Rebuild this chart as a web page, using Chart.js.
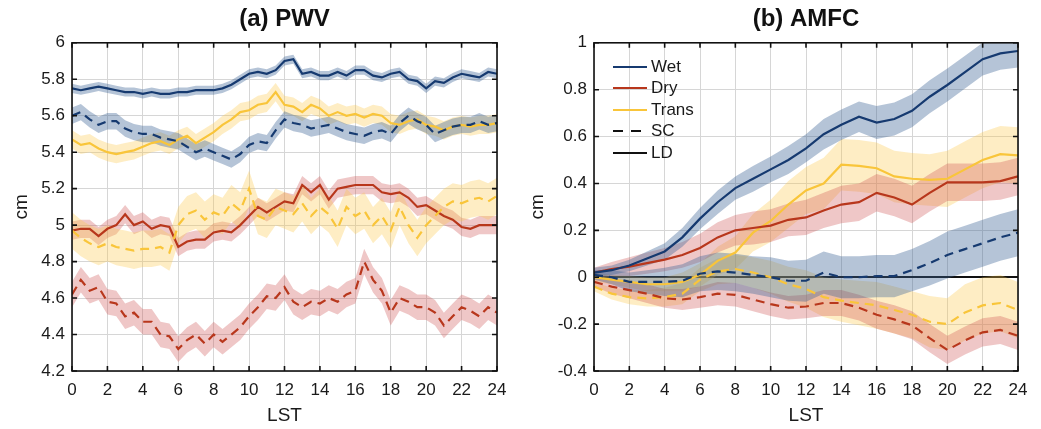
<!DOCTYPE html>
<html>
<head>
<meta charset="utf-8">
<script src="https://cdn.jsdelivr.net/npm/chart.js@4.4.1/dist/chart.umd.min.js"></script>
<style>
  body { margin: 0; background: #fff; width: 1041px; height: 429px; overflow: hidden; position: relative;
         font-family: "Liberation Sans", Arial, sans-serif; }
  .panel { position: absolute; top: 0; }
  #legend { position: absolute; left: 613px; top: 56px; font-size: 17px; color: #1a1a1a; }
  .row { height: 21.5px; display: flex; align-items: center; }
  .row svg { margin-right: 4px; }
</style>
</head>
<body>
<div class="panel" style="left:0"><canvas id="pwv" width="520" height="429"></canvas></div>
<div class="panel" style="left:520px"><canvas id="amfc" width="521" height="429"></canvas></div>
<div id="legend"></div>
<script>
// hours (LST)
const hoursA = [0,0.5,1,1.5,2,2.5,3,3.5,4,4.5,5,5.5,6,6.5,7,7.5,8,8.5,9,9.5,10,10.5,11,11.5,12,
  12.5,13,13.5,14,14.5,15,15.5,16,16.5,17,17.5,18,18.5,19,19.5,20,20.5,21,21.5,22,22.5,23,23.5,24];
const hoursB = [0,1,2,3,4,5,6,7,8,9,10,11,12,13,14,15,16,17,18,19,20,21,22,23,24];
const xTicks = [0,2,4,6,8,10,12,14,16,18,20,22,24];
const yTicksA = [4.2,4.4,4.6,4.8,5,5.2,5.4,5.6,5.8,6];
const yTicksB = [-0.4,-0.2,0,0.2,0.4,0.6,0.8,1];

// (a) PWV, cm
const wetLD_A = [5.75,5.74,5.75,5.76,5.75,5.74,5.73,5.73,5.72,5.73,5.72,5.72,5.73,5.73,5.74,5.74,5.74,5.75,5.77,5.80,
  5.83,5.84,5.83,5.85,5.90,5.91,5.83,5.84,5.82,5.82,5.84,5.82,5.85,5.85,5.82,5.81,5.83,5.84,5.80,5.79,
  5.75,5.79,5.78,5.81,5.83,5.82,5.81,5.84,5.83];
const wetSC_A = [5.60,5.62,5.58,5.55,5.57,5.57,5.53,5.51,5.50,5.50,5.48,5.47,5.46,5.43,5.40,5.42,5.40,5.38,5.36,5.39,
  5.44,5.46,5.45,5.52,5.58,5.56,5.55,5.53,5.54,5.55,5.53,5.51,5.50,5.49,5.51,5.52,5.50,5.56,5.60,5.57,
  5.55,5.50,5.52,5.54,5.55,5.55,5.57,5.55,5.56];
const transLD_A = [5.47,5.44,5.45,5.42,5.40,5.39,5.40,5.41,5.43,5.45,5.46,5.44,5.47,5.49,5.45,5.48,5.51,5.55,5.58,5.62,
  5.63,5.66,5.67,5.73,5.66,5.65,5.62,5.66,5.64,5.60,5.62,5.60,5.61,5.59,5.61,5.60,5.56,5.55,5.57,5.58,
  5.55,5.54,5.52,5.54,5.55,5.54,5.55,5.55,5.56];
const transSC_A = [4.97,4.93,4.90,4.88,4.90,4.88,4.87,4.86,4.87,4.87,4.88,4.85,5.00,5.06,5.08,5.03,5.07,5.05,5.12,5.08,
  5.20,5.05,5.03,5.10,5.08,5.06,5.12,5.05,5.10,5.06,4.98,5.10,5.05,5.08,5.00,5.05,4.97,5.10,5.00,4.93,
  5.00,5.05,5.10,5.13,5.12,5.14,5.15,5.13,5.16];
const dryLD_A = [4.97,4.98,4.98,4.94,4.98,5.00,5.06,5.00,5.02,4.98,5.00,4.99,4.88,4.91,4.92,4.92,4.96,4.97,4.96,5.00,
  5.05,5.10,5.07,5.10,5.13,5.12,5.22,5.18,5.22,5.14,5.20,5.21,5.22,5.22,5.22,5.18,5.17,5.18,5.15,5.10,
  5.11,5.08,5.05,5.03,4.99,4.98,5.00,5.00,5.00];
const drySC_A = [4.62,4.70,4.64,4.66,4.58,4.57,4.50,4.52,4.47,4.47,4.40,4.39,4.32,4.37,4.40,4.35,4.40,4.36,4.40,4.44,
  4.50,4.55,4.61,4.60,4.66,4.58,4.55,4.58,4.57,4.60,4.58,4.62,4.64,4.80,4.70,4.64,4.52,4.60,4.58,4.55,
  4.55,4.52,4.45,4.50,4.55,4.53,4.50,4.55,4.52];
// half widths of the shading
const wetLD_A_err = 0.025, wetSC_A_err = 0.045, transLD_A_err = 0.05;
const transSC_A_err = 0.1, dryLD_A_err = 0.05, drySC_A_err = 0.07;

// (b) AMFC, cm
const wetLD_B = [0.02,0.03,0.05,0.08,0.11,0.17,0.25,0.32,0.38,0.42,0.46,0.50,0.55,0.61,0.65,0.685,0.66,0.675,0.71,0.77,0.82,0.875,0.93,0.955,0.965];
const dryLD_B = [0.02,0.035,0.045,0.06,0.075,0.095,0.125,0.17,0.20,0.21,0.22,0.245,0.255,0.285,0.31,0.32,0.36,0.34,0.31,0.36,0.405,0.405,0.405,0.41,0.43];
const transLD_B = [0.0,-0.01,-0.02,-0.03,-0.03,-0.02,0.01,0.07,0.105,0.19,0.24,0.31,0.37,0.40,0.48,0.475,0.465,0.43,0.42,0.415,0.42,0.46,0.50,0.525,0.52];
const wetSC_B = [0.01,0.0,-0.02,-0.02,-0.02,-0.015,0.015,0.025,0.02,0.01,0.0,-0.015,-0.015,0.02,0.0,0.0,0.005,0.005,0.03,0.06,0.095,0.12,0.145,0.17,0.19];
const drySC_B = [-0.02,-0.04,-0.055,-0.07,-0.09,-0.095,-0.085,-0.07,-0.075,-0.095,-0.115,-0.13,-0.125,-0.11,-0.11,-0.13,-0.16,-0.18,-0.205,-0.26,-0.31,-0.27,-0.235,-0.225,-0.25];
const transSC_B = [-0.04,-0.07,-0.085,-0.09,-0.085,-0.07,-0.01,0.025,0.035,0.02,0.0,-0.03,-0.05,-0.085,-0.10,-0.11,-0.12,-0.14,-0.16,-0.19,-0.20,-0.15,-0.12,-0.11,-0.14];
const wetLD_B_err = [0.02,0.02,0.025,0.03,0.035,0.04,0.045,0.05,0.05,0.055,0.055,0.06,0.06,0.065,0.065,0.065,0.07,0.07,0.07,0.07,0.07,0.07,0.07,0.07,0.07];
const dryLD_B_err = [0.02,0.03,0.04,0.045,0.05,0.055,0.06,0.065,0.065,0.07,0.07,0.07,0.075,0.075,0.08,0.08,0.08,0.08,0.08,0.08,0.08,0.08,0.08,0.08,0.08];
const transLD_B_err = [0.02,0.02,0.025,0.03,0.03,0.04,0.05,0.06,0.07,0.08,0.09,0.1,0.1,0.11,0.11,0.11,0.11,0.11,0.11,0.11,0.12,0.12,0.12,0.12,0.12];
const wetSC_B_err = [0.02,0.03,0.04,0.05,0.06,0.07,0.075,0.08,0.08,0.08,0.085,0.085,0.09,0.09,0.09,0.09,0.09,0.09,0.09,0.095,0.1,0.1,0.1,0.1,0.1];
const drySC_B_err = [0.02,0.03,0.035,0.04,0.04,0.045,0.045,0.05,0.05,0.05,0.05,0.05,0.05,0.055,0.055,0.055,0.06,0.06,0.06,0.06,0.06,0.06,0.06,0.06,0.06];
const transSC_B_err = [0.02,0.025,0.03,0.035,0.04,0.045,0.05,0.055,0.06,0.065,0.07,0.075,0.08,0.085,0.09,0.095,0.1,0.1,0.1,0.11,0.11,0.12,0.12,0.12,0.12];

const legendNames = ["Wet", "Dry", "Trans", "SC", "LD"];

const blue = "#163a70", red = "#b8371c", yellow = "#f9c53a";
const blueBand = "rgba(60,100,150,0.38)", redBand = "rgba(205,80,80,0.32)", yellowBand = "rgba(252,200,70,0.32)";
const dash = [9, 6];

Chart.defaults.font.family = '"Liberation Sans", Arial, sans-serif';
Chart.defaults.color = "#1a1a1a";

function addSeries(list, xs, mean, err, line, fillColor, dashed) {
  const e = (i) => (Array.isArray(err) ? err[i] : err);
  list.push({
    data: xs.map((x, i) => ({ x: x, y: mean[i] + e(i) })),
    borderColor: "rgba(0,0,0,0)", borderWidth: 0, pointRadius: 0, fill: false, order: 2
  });
  list.push({
    data: xs.map((x, i) => ({ x: x, y: mean[i] - e(i) })),
    borderColor: "rgba(0,0,0,0)", borderWidth: 0, pointRadius: 0,
    fill: "-1", backgroundColor: fillColor, order: 2
  });
  list.push({
    data: xs.map((x, i) => ({ x: x, y: mean[i] })),
    borderColor: line, borderWidth: 2.2, pointRadius: 0, fill: false,
    borderDash: dashed ? dash : [], order: 0
  });
}

const framePlugin = {
  id: "frame",
  afterDatasetsDraw(chart) {
    const { ctx, chartArea: a, scales } = chart;
    const x = scales.x, y = scales.y;
    ctx.save();
    ctx.strokeStyle = "#111";
    ctx.lineWidth = 1.6;
    ctx.strokeRect(a.left, a.top, a.right - a.left, a.bottom - a.top);
    ctx.beginPath();
    x.ticks.forEach((t) => {
      const p = x.getPixelForValue(t.value);
      ctx.moveTo(p, a.bottom); ctx.lineTo(p, a.bottom - 5);
      ctx.moveTo(p, a.top); ctx.lineTo(p, a.top + 5);
    });
    y.ticks.forEach((t) => {
      const p = y.getPixelForValue(t.value);
      ctx.moveTo(a.left, p); ctx.lineTo(a.left + 5, p);
      ctx.moveTo(a.right, p); ctx.lineTo(a.right - 5, p);
    });
    ctx.stroke();
    ctx.restore();
  }
};

function makeScales(yTicks, yMin, yMax, yWidth, titlePad) {
  return {
    x: {
      type: "linear", min: 0, max: 24,
      afterBuildTicks: (s) => { s.ticks = xTicks.map((v) => ({ value: v })); },
      afterFit: (s) => { s.height = 58; },
      grid: { color: "#d6d6d6", lineWidth: 1, drawTicks: false },
      border: { display: false },
      ticks: { font: { size: 17 }, padding: 9, maxRotation: 0, autoSkip: false, callback: (v) => String(v) },
      title: { display: true, text: "LST", font: { size: 19 }, padding: { top: 0, bottom: 2 } }
    },
    y: {
      min: yMin, max: yMax,
      afterBuildTicks: (s) => { s.ticks = yTicks.map((v) => ({ value: v })); },
      afterFit: (s) => { s.width = yWidth; },
      grid: {
        drawTicks: false,
        color: (c) => (c.tick && c.tick.value === 0 && yMin < 0 ? "#111" : "#d6d6d6"),
        lineWidth: (c) => (c.tick && c.tick.value === 0 && yMin < 0 ? 2 : 1)
      },
      border: { display: false },
      ticks: { font: { size: 17 }, padding: 7, autoSkip: false, callback: (v) => String(v) },
      title: { display: true, text: "cm", font: { size: 19 }, padding: { top: titlePad, bottom: 0 } }
    }
  };
}

function makeChart(id, title, datasets, scales) {
  return new Chart(document.getElementById(id), {
    type: "line",
    data: { datasets: datasets },
    options: {
      responsive: false,
      animation: false,
      layout: { padding: { left: 0, right: 23, top: 0, bottom: 0 } },
      scales: scales,
      plugins: {
        legend: { display: false },
        tooltip: { enabled: false },
        title: {
          display: true, text: title, fullSize: false, color: "#111",
          font: { size: 24, weight: "bold" }, padding: { top: 5, bottom: 9 }
        }
      }
    },
    plugins: [framePlugin]
  });
}

const setsA = [];
addSeries(setsA, hoursA, wetLD_A, wetLD_A_err, blue, blueBand, false);
addSeries(setsA, hoursA, wetSC_A, wetSC_A_err, blue, blueBand, true);
addSeries(setsA, hoursA, transLD_A, transLD_A_err, yellow, yellowBand, false);
addSeries(setsA, hoursA, transSC_A, transSC_A_err, yellow, yellowBand, true);
addSeries(setsA, hoursA, dryLD_A, dryLD_A_err, red, redBand, false);
addSeries(setsA, hoursA, drySC_A, drySC_A_err, red, redBand, true);
makeChart("pwv", "(a) PWV", setsA, makeScales(yTicksA, 4.2, 6, 72, 10));

const setsB = [];
addSeries(setsB, hoursB, wetLD_B, wetLD_B_err, blue, blueBand, false);
addSeries(setsB, hoursB, wetSC_B, wetSC_B_err, blue, blueBand, true);
addSeries(setsB, hoursB, dryLD_B, dryLD_B_err, red, redBand, false);
addSeries(setsB, hoursB, drySC_B, drySC_B_err, red, redBand, true);
addSeries(setsB, hoursB, transLD_B, transLD_B_err, yellow, yellowBand, false);
addSeries(setsB, hoursB, transSC_B, transSC_B_err, yellow, yellowBand, true);
makeChart("amfc", "(b) AMFC", setsB, makeScales(yTicksB, -0.4, 1, 74, 6));

// legend inside panel (b)
const legendStyles = [
  { color: blue, dashed: false }, { color: red, dashed: false }, { color: yellow, dashed: false },
  { color: "#111", dashed: true }, { color: "#111", dashed: false }
];
document.getElementById("legend").innerHTML = legendNames.map((name, i) => {
  const st = legendStyles[i];
  const d = st.dashed ? ' stroke-dasharray="10 8"' : "";
  return `<div class="row"><svg width="34" height="4"><line x1="0" y1="2" x2="34" y2="2" stroke="${st.color}" stroke-width="2"${d}/></svg><span>${name}</span></div>`;
}).join("");
</script>
</body>
</html>
